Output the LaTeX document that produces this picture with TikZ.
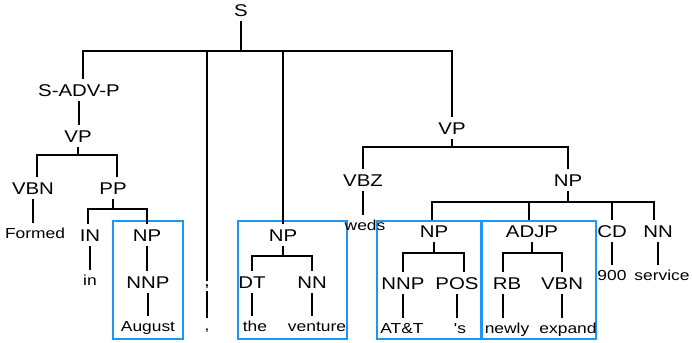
\documentclass[tikz,border=0pt]{standalone}
\usepackage{fontspec}
\newfontfamily\labfont[FakeStretch=1.2]{Liberation Sans}
\definecolor{hlblue}{RGB}{30,150,245}
\begin{document}
\begin{tikzpicture}[x=1pt,y=-1pt,
  lab/.style={font=\labfont\fontsize{17}{18}\selectfont, inner xsep=0pt, inner ysep=5pt, text height=12.2pt, text depth=0pt},
  wrd/.style={font=\labfont\fontsize{14.5}{16}\selectfont, inner xsep=0pt, inner ysep=5pt, text height=10.4pt, text depth=0pt},
  punct/.style={inner ysep=3pt, text height=2pt, text depth=2pt},
  edge/.style={line width=1.8pt},
  hl/.style={draw=hlblue, line width=1.8pt}]
\useasboundingbox (0,0) rectangle (692,342);
% highlight boxes
\draw[hl] (113,221) rectangle (183,339);
\draw[hl] (238,221) rectangle (347,339);
\draw[hl] (377,221) rectangle (481,339);
\draw[hl] (482,221) rectangle (596,339);
% labels
\node[lab] (S) at (241,10) {S};
\node[lab] (SADVP) at (79,90) {S-ADV-P};
\node[lab] (VP1) at (78,136) {VP};
\node[lab] (VBN1) at (33,188) {VBN};
\node[lab] (PP) at (113,188) {PP};
\node[lab] (IN) at (90,235) {IN};
\node[lab] (NP1) at (147,235) {NP};
\node[lab] (NNP1) at (148,282) {NNP};
\node[lab,punct] (ctag) at (207,286) {,};
\node[lab] (NP2) at (283,235) {NP};
\node[lab] (DT) at (252,282) {DT};
\node[lab] (NN1) at (312,282) {NN};
\node[lab] (VP2) at (452,128) {VP};
\node[lab] (VBZ) at (363,180) {VBZ};
\node[lab] (NP3) at (568,180) {NP};
\node[lab] (NP4) at (434,231) {NP};
\node[lab] (ADJP) at (532,231) {ADJP};
\node[lab] (CD) at (612,231) {CD};
\node[lab] (NN2) at (658,231) {NN};
\node[lab] (NNP2) at (403,283) {NNP};
\node[lab] (POS) at (457,283) {POS};
\node[lab] (RB) at (507,283) {RB};
\node[lab] (VBN2) at (562,283) {VBN};
% words
\node[wrd] (Formed) at (35,233) {Formed};
\node[wrd] (in) at (90,280) {in};
\node[wrd] (August) at (148,326) {August};
\node[wrd,punct,inner ysep=10pt] (cword) at (207,330) {,};
\node[wrd] (the) at (255,326) {the};
\node[wrd] (venture) at (317,326) {venture};
\node[wrd] (weds) at (365,225) {weds};
\node[wrd] (ATT) at (402,328) {AT\&T};
\node[wrd] (s) at (460,328) {'s};
\node[wrd] (newly) at (507,328) {newly};
\node[wrd] (expand) at (568,328) {expand};
\node[wrd] (n900) at (612,275) {900};
\node[wrd] (service) at (662,275) {service};
% tree edges
\draw[edge] (S.south) -- (S.south |- 0,51) -| ([xshift=4pt]SADVP.north);
\draw[edge] (S.south |- 0,51) -| (ctag.north);
\draw[edge] (S.south |- 0,51) -| (NP2.north);
\draw[edge] (S.south |- 0,51) -| (VP2.north);
\draw[edge] (SADVP.south) -- (SADVP.south |- VP1.north);
\draw[edge] (VP1.south) -- (VP1.south |- 0,155) -| ([xshift=4pt]VBN1.north);
\draw[edge] (VP1.south |- 0,155) -| ([xshift=4pt]PP.north);
\draw[edge] (VBN1.south) -- (VBN1.south |- Formed.north);
\draw[edge] (PP.south) -- (PP.south |- 0,209) -| ([xshift=-2pt]IN.north);
\draw[edge] (PP.south |- 0,209) -| (NP1.north);
\draw[edge] (IN.south) -- (IN.south |- in.north);
\draw[edge] (NP1.south) -- (NP1.south |- NNP1.north);
\draw[edge] (NNP1.south) -- (NNP1.south |- August.north);
\draw[edge] (ctag.south) -- (ctag.south |- cword.north);
\draw[edge] (NP2.south) -- (NP2.south |- 0,256) -| (DT.north);
\draw[edge] (NP2.south |- 0,256) -| (NN1.north);
\draw[edge] (DT.south) -- (DT.south |- the.north);
\draw[edge] (NN1.south) -- (NN1.south |- venture.north);
\draw[edge] (VP2.south) -- (VP2.south |- 0,147) -| (VBZ.north);
\draw[edge] (VP2.south |- 0,147) -| (NP3.north);
\draw[edge] (VBZ.south) -- (VBZ.south |- weds.north);
\draw[edge] (NP3.south) -- (NP3.south |- 0,202) -| ([xshift=-2pt]NP4.north);
\draw[edge] (NP3.south |- 0,202) -| ([xshift=-3pt]ADJP.north);
\draw[edge] (NP3.south |- 0,202) -| (CD.north);
\draw[edge] (NP3.south |- 0,202) -| ([xshift=-4pt]NN2.north);
\draw[edge] (NP4.south) -- (NP4.south |- 0,253) -| (NNP2.north);
\draw[edge] (NP4.south |- 0,253) -| ([xshift=7pt]POS.north);
\draw[edge] (ADJP.south) -- (ADJP.south |- 0,253) -| ([xshift=-4pt]RB.north);
\draw[edge] (ADJP.south |- 0,253) -| (VBN2.north);
\draw[edge] (NNP2.south) -- (NNP2.south |- ATT.north);
\draw[edge] (POS.south) -- (POS.south |- s.north);
\draw[edge] ([xshift=-4pt]RB.south) -- ([xshift=-4pt]RB.south |- newly.north);
\draw[edge] (VBN2.south) -- (VBN2.south |- expand.north);
\draw[edge] (CD.south) -- (CD.south |- n900.north);
\draw[edge] (NN2.south) -- (NN2.south |- service.north);
\end{tikzpicture}
\end{document}
